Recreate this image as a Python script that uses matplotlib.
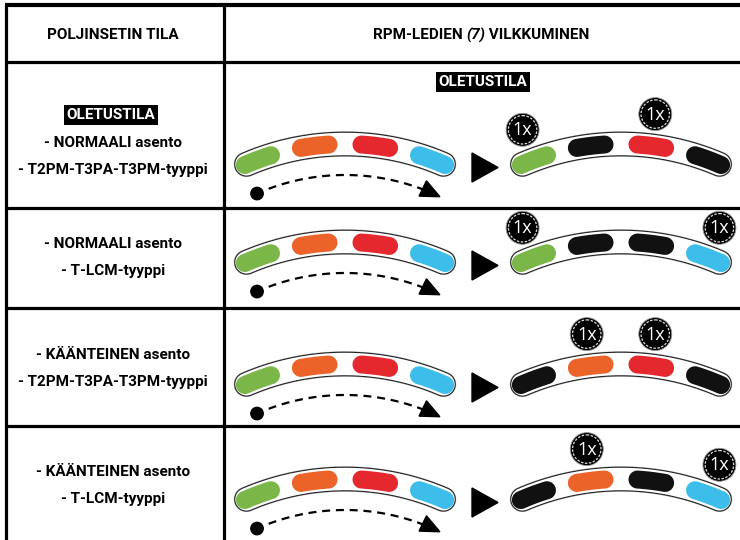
import numpy as np
import matplotlib
matplotlib.use('Agg')
import matplotlib.pyplot as plt
from matplotlib.patches import Polygon, Circle
from matplotlib import font_manager as fm

# ---------------- content ----------------
header_left = "POLJINSETIN TILA"
header_right = ["RPM-LEDIEN ", "(7)", " VILKKUMINEN"]
default_label = "OLETUSTILA"
row_lines = [
    ["- NORMAALI asento", "- T2PM-T3PA-T3PM-tyyppi"],
    ["- NORMAALI asento", "- T-LCM-tyyppi"],
    ["- KÄÄNTEINEN asento", "- T2PM-T3PA-T3PM-tyyppi"],
    ["- KÄÄNTEINEN asento", "- T-LCM-tyyppi"],
]
GREEN, ORANGE, RED, BLUE, OFF = '#7ab648', '#eb6329', '#e4282d', '#3dbde9', '#111111'
leds_before = [GREEN, ORANGE, RED, BLUE]
leds_after = [
    [GREEN, OFF, RED, OFF],
    [GREEN, OFF, OFF, BLUE],
    [OFF, ORANGE, RED, OFF],
    [OFF, ORANGE, OFF, BLUE],
]
badge_leds = [[0, 2], [0, 3], [1, 2], [1, 3]]
badge_text = "1x"

# ---------------- figure ----------------
W, H = 740, 540
fig = plt.figure(figsize=(W / 100, H / 100), dpi=100)
ax = fig.add_axes([0, 0, 1, 1])
ax.set_xlim(0, W)
ax.set_ylim(H, 0)
ax.axis('off')
renderer = fig.canvas.get_renderer()

FAM = ['Roboto', 'Liberation Sans', 'DejaVu Sans']


def FP(size, italic=False):
    return fm.FontProperties(family=FAM, weight='bold',
                             style='italic' if italic else 'normal', size=size)


def width_of(s, prop):
    t = ax.text(0, 0, s, fontproperties=prop)
    w = t.get_window_extent(renderer=renderer).width
    t.remove()
    return w

# fit font size so the widest line is close to the reference width
w12 = width_of("- T2PM-T3PA-T3PM-tyyppi", FP(12))
FS = min(13, 12 * 190 / w12)

# table lines
lw_b = 2.3
ax.plot([5, W], [5, 5], color='black', lw=3.0, solid_capstyle='butt')
ax.plot([6, 6], [4, H], color='black', lw=lw_b, solid_capstyle='butt')
ax.plot([224, 224], [4, H], color='black', lw=lw_b, solid_capstyle='butt')
for y in [62, 208, 308, 426]:
    ax.plot([5, W], [y, y], color='black', lw=lw_b, solid_capstyle='butt')

ax.text(113, 35, header_left, ha='center', va='center', fontproperties=FP(FS))

# header right with italic part
italics = [False, True, False]
widths = [width_of(s, FP(FS, it)) for s, it in zip(header_right, italics)]
x = 481 - sum(widths) / 2
for s, it, w in zip(header_right, italics, widths):
    ax.text(x, 35, s, ha='left', va='center', fontproperties=FP(FS, it))
    x += w

# left column texts
row_line_y = [[143, 170], [244, 271], [355, 382], [472, 499]]
for lines, ys in zip(row_lines, row_line_y):
    for s, y in zip(lines, ys):
        ax.text(113, y, s, ha='center', va='center', fontproperties=FP(FS))

box = dict(facecolor='black', edgecolor='none', boxstyle='square,pad=0.2')
ax.text(111, 115, default_label, ha='center', va='center', fontproperties=FP(FS),
        color='white', bbox=box)
ax.text(483, 82, default_label, ha='center', va='center', fontproperties=FP(FS),
        color='white', bbox=box)


def pt(cx, cy, r, a):
    a = np.radians(a)
    return np.array([cx + r * np.sin(a), cy - r * np.cos(a)])


def arc_poly(cx, cy, r, hw, a0, a1, n=60):
    angs = np.linspace(a0, a1, n)
    outer = [pt(cx, cy, r + hw, a) for a in angs]
    inner = [pt(cx, cy, r - hw, a) for a in angs[::-1]]

    def cap(a, sign):
        ar = np.radians(a)
        u = np.array([np.sin(ar), -np.cos(ar)])
        t = np.array([np.cos(ar), np.sin(ar)])
        c = pt(cx, cy, r, a)
        phis = np.linspace(0, np.pi, 20)
        return [c + hw * (np.cos(p) * u * sign + np.sin(p) * t * sign) for p in phis]
    return np.array(outer + cap(a1, 1) + inner + cap(a0, -1))


R = 249
CY0 = 393
LED_ANG = [-20.5, -7.0, 7.0, 20.5]
row_off = [0, 98, 220, 335]
CX_L, CX_R = 345, 621


def gauge(cx, cy, colors):
    band = arc_poly(cx, cy, R, 12.8, -23.3, 23.3, 120)
    ax.add_patch(Polygon(band, closed=True, facecolor='#c8c8c8', edgecolor='none', zorder=2))
    band2 = arc_poly(cx, cy, R, 11.8, -23.3, 23.3, 120)
    ax.add_patch(Polygon(band2, closed=True, facecolor='white', edgecolor='#222222',
                         lw=0.8, zorder=3))
    for a, c in zip(LED_ANG, colors):
        led = arc_poly(cx, cy, R, 9.0, a - 3.2, a + 3.2, 30)
        ax.add_patch(Polygon(led, closed=True, facecolor=c, edgecolor='none', zorder=4))


def dashed_arrow(cx, cy):
    r = 218
    dot = pt(cx, cy, r, -23.8)
    ax.add_patch(Circle(dot, 6.2, color='black', zorder=4))
    angs = np.linspace(-20.5, 21.5, 100)
    p = np.array([pt(cx, cy, r, a) for a in angs])
    ax.plot(p[:, 0], p[:, 1], color='black', lw=1.6, dashes=(3.6, 2.6), zorder=4)
    a = 25.8
    tip = pt(cx, cy, r, a)
    ar = np.radians(a)
    t = np.array([np.cos(ar), np.sin(ar)])
    nrm = np.array([-np.sin(ar), np.cos(ar)])
    base = tip - 19 * t
    tri = [tip, base + 8.5 * nrm, base - 8.5 * nrm]
    ax.add_patch(Polygon(tri, closed=True, color='black', zorder=4))


def badge(c):
    ax.add_patch(Circle(c, 16.5, facecolor='black', edgecolor='#999999', lw=0.6, zorder=6))
    ax.add_patch(Circle(c, 14.2, facecolor='none', edgecolor='#dddddd', lw=0.9,
                        linestyle=(0, (2.0, 1.2)), zorder=7))
    ax.text(c[0], c[1] + 0.5, badge_text, ha='center', va='center', fontsize=13,
            color='white', family=['Open Sans', 'DejaVu Sans'], zorder=8)


for i in range(4):
    cy = CY0 + row_off[i]
    gauge(CX_L, cy, leds_before)
    dashed_arrow(CX_L, cy)
    yo = row_off[i]
    ax.add_patch(Polygon([[472, 153 + yo], [472, 182 + yo], [498, 167.5 + yo]],
                         closed=True, color='black', zorder=4))
    gauge(CX_R, cy, leds_after[i])
    for k in badge_leds[i]:
        badge(pt(CX_R, cy, 281, LED_ANG[k]))

fig.savefig('out.png', dpi=100)
